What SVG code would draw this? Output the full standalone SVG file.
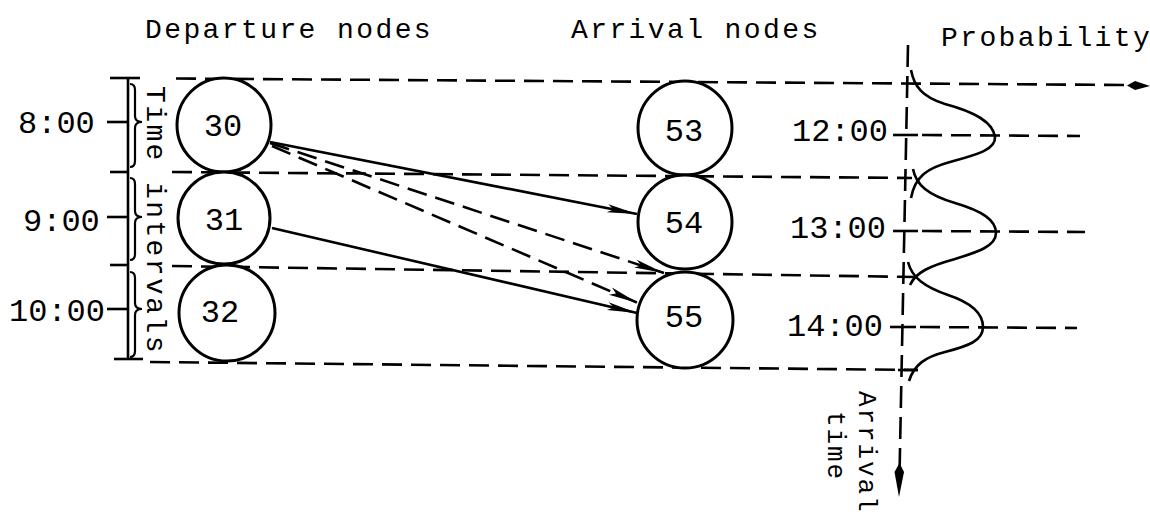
<svg xmlns="http://www.w3.org/2000/svg" width="1150" height="516" viewBox="0 0 1150 516">
<defs>
<style>
.hdr{font-family:"Liberation Mono",monospace;font-size:28px;letter-spacing:2.4px;fill:#000}
.vt{font-family:"Liberation Mono",monospace;font-size:26px;letter-spacing:1.9px;fill:#000}
.lbl{font-family:"Liberation Mono",monospace;font-size:32px;fill:#000}
.num{font-family:"Liberation Mono",monospace;font-size:32px;fill:#000;text-anchor:middle}
.node{fill:#fff;stroke:#000;stroke-width:3}
.dash{fill:none;stroke:#000;stroke-width:2.6;stroke-dasharray:20 9}
.solid{fill:none;stroke:#000;stroke-width:2.6}
.thin{fill:none;stroke:#000;stroke-width:2.2}
.curve{fill:none;stroke:#000;stroke-width:2.6}
</style>
<marker id="ah" markerUnits="userSpaceOnUse" markerWidth="32" markerHeight="12" refX="30" refY="5" orient="auto">
<path d="M0,1 L30,5 L0,9 L6,5 Z" fill="#000" stroke="none"/>
</marker>
</defs>
<rect width="1150" height="516" fill="#fff"/>

<g id="headers">
<text class="hdr" x="145" y="38">Departure nodes</text>
<text class="hdr" x="571" y="38">Arrival nodes</text>
<text class="hdr" x="941" y="46">Probability</text>
</g>

<g id="grid">
<path class="solid" d="M110,78 L140,78"/>
<path class="dash" d="M176,78.5 L1128,85"/>
<path d="M1150,86 L1135,81 L1127,85.5 L1135,90 Z" fill="#000"/>
<path class="solid" d="M110,172 L128,172"/>
<path class="dash" d="M172,172 L912,178"/>
<path class="solid" d="M110,265 L128,265"/>
<path class="dash" d="M172,266 L916,277"/>
<path class="solid" d="M114,359 L143,359"/>
<path class="dash" d="M150,362 L918,370"/>
</g>

<g id="time-axis">
<path class="solid" d="M128,78 L128,360"/>
<path class="solid" d="M107,122 L128,122"/>
<path class="solid" d="M107,217 L128,217"/>
<path class="solid" d="M107,309 L128,309"/>
<path class="thin" d="M130,84 Q135,84 135,90 L135,116 Q135,122 142,122 Q135,122 135,128 L135,161 Q135,167 130,167"/>
<path class="thin" d="M130,178 Q135,178 135,184 L135,211 Q135,217 142,217 Q135,217 135,223 L135,254 Q135,260 130,260"/>
<path class="thin" d="M130,272 Q135,272 135,278 L135,303 Q135,309 142,309 Q135,309 135,315 L135,351 Q135,357 130,357"/>
<text class="lbl" x="18" y="133">8:00</text>
<text class="lbl" x="23" y="231">9:00</text>
<text class="lbl" x="9" y="321">10:00</text>
<text class="hdr" transform="translate(147,86) rotate(90)">Time intervals</text>
</g>

<g id="node-30"><circle class="node" cx="224" cy="125" r="47"/><text class="num" x="223" y="136">30</text></g>
<g id="node-31"><circle class="node" cx="224" cy="218" r="46"/><text class="num" x="224" y="230">31</text></g>
<g id="node-32"><circle class="node" cx="227" cy="313" r="48"/><text class="num" x="220" y="322">32</text></g>
<g id="node-53"><circle class="node" cx="685" cy="128" r="47"/><text class="num" x="684" y="141">53</text></g>
<g id="node-54"><circle class="node" cx="685" cy="222" r="47"/><text class="num" x="684" y="233">54</text></g>
<g id="node-55"><circle class="node" cx="685" cy="320" r="48"/><text class="num" x="684" y="327">55</text></g>

<g id="connectors">
<path class="solid" d="M270,142 L637,214" marker-end="url(#ah)"/>
<path class="dash" d="M270,143 L664,273" marker-end="url(#ah)"/>
<path class="dash" d="M272,146 L638,303" marker-end="url(#ah)"/>
<path class="solid" d="M272,228 L637,313" marker-end="url(#ah)"/>
</g>

<g id="probability">
<path class="dash" d="M908,45 L899.6,470" style="stroke-dasharray:22 9"/>
<path d="M899,497 L894.5,472 L899.5,463 L904,472 Z" fill="#000"/>
<path class="solid" d="M893,135 L918,135"/>
<path class="dash" d="M922,135 L1080,136"/>
<path class="solid" d="M893,231 L918,231"/>
<path class="dash" d="M922,231 L1085,232"/>
<path class="solid" d="M890,327 L916,327"/>
<path class="dash" d="M920,327 L1077,328"/>
<path class="solid" d="M898,370 L918,370"/>
<path class="curve" d="M911,70 C914,86 922,97 945,104 C975,112 993,122 995,137 C996,150 975,155 950,162 C928,168 915,176 911,198"/>
<path class="curve" d="M913,169 C916,185 928,195 955,203 C982,211 996,220 996,233 C996,246 978,252 955,259 C930,266 916,272 910,285"/>
<path class="curve" d="M908,262 C912,278 925,287 948,295 C972,303 983,313 983,327 C983,341 968,346 945,352 C925,357 914,365 909,381"/>
<text class="lbl" x="792" y="141">12:00</text>
<text class="lbl" x="790" y="238">13:00</text>
<text class="lbl" x="787" y="336">14:00</text>
<text class="vt" transform="translate(859,391) rotate(90)">Arrival</text>
<text class="vt" transform="translate(828,411) rotate(90)">time</text>
</g>
</svg>
